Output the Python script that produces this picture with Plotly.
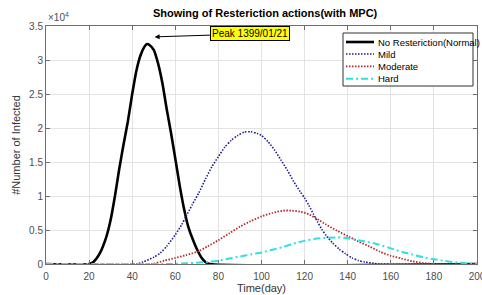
import plotly.graph_objects as go

# ---- data (infected count in units of 1e4) ----
black_days = [0, 20, 22, 25, 28, 30, 32, 34, 36, 38, 40, 42, 44, 46, 47, 48, 50, 52, 54, 56,
              58, 60, 62, 64, 66, 68, 70, 72, 74, 76, 200]
black_vals = [0, 0, 0.03, 0.16, 0.40, 0.65, 1.0, 1.4, 1.76, 2.1, 2.5, 2.85, 3.08, 3.21, 3.235,
              3.22, 3.15, 2.95, 2.66, 2.28, 1.93, 1.55, 1.16, 0.82, 0.55, 0.37, 0.22, 0.10,
              0.03, 0, 0]

mild_days = [0, 42, 45, 50, 53, 56, 60, 63, 65, 68, 71, 74, 77, 80, 83, 86, 89, 92, 95, 98,
             100, 103, 106, 109, 112, 115, 118, 120, 122, 124, 126, 128, 130, 133, 136, 139,
             142, 145, 148, 152, 155, 200]
mild_vals = [0, 0, 0.03, 0.10, 0.16, 0.26, 0.43, 0.58, 0.70, 0.88, 1.05, 1.25, 1.43, 1.58,
             1.72, 1.82, 1.89, 1.94, 1.945, 1.92, 1.89, 1.80, 1.68, 1.53, 1.38, 1.21, 1.06,
             0.97, 0.86, 0.74, 0.62, 0.51, 0.42, 0.31, 0.22, 0.15, 0.09, 0.05, 0.03, 0.01, 0, 0]

moderate_days = [0, 49, 55, 60, 65, 71, 75, 80, 85, 90, 95, 100, 105, 110, 114, 118, 122, 126,
                 130, 135, 140, 145, 150, 155, 160, 165, 170, 175, 180, 200]
moderate_vals = [0, 0, 0.05, 0.09, 0.13, 0.19, 0.26, 0.35, 0.45, 0.55, 0.63, 0.70, 0.75, 0.785,
                 0.785, 0.77, 0.73, 0.66, 0.58, 0.49, 0.41, 0.33, 0.26, 0.18, 0.12, 0.08, 0.04,
                 0.015, 0, 0]

hard_days = [0, 58, 65, 70, 75, 80, 85, 90, 95, 100, 105, 110, 115, 120, 125, 130, 135, 140,
             145, 150, 155, 160, 165, 170, 175, 180, 185, 190, 195, 200]
hard_vals = [0, 0, 0.01, 0.02, 0.03, 0.05, 0.08, 0.11, 0.14, 0.17, 0.21, 0.25, 0.30, 0.34, 0.37,
             0.385, 0.39, 0.38, 0.35, 0.32, 0.28, 0.23, 0.18, 0.14, 0.10, 0.07, 0.045, 0.025,
             0.01, 0]

series_names = ["No Resteriction(Normal)", "Mild", "Moderate", "Hard"]
x_ticks = [0, 20, 40, 60, 80, 100, 120, 140, 160, 180, 200]
y_ticks = [0, 0.5, 1, 1.5, 2, 2.5, 3, 3.5]
y_tick_text = ["0", "0.5", "1", "1.5", "2", "2.5", "3", "3.5"]
peak_day = 50.4
peak_val = 3.34

FONT = "Liberation Sans, Arial, sans-serif"
TICK_COLOR = "#4d4d4d"

styles = [
    dict(color="black", width=2.6),
    dict(color="#1c1c96", width=1.6, dash="1.5px,1.5px"),
    dict(color="#b22d2d", width=1.8, dash="1.5px,1.5px"),
    dict(color="#30e0e0", width=2.0, dash="7px,3px,2px,3px"),
]

fig = go.Figure()
for days, vals, name, st in zip([black_days, mild_days, moderate_days, hard_days],
                                [black_vals, mild_vals, moderate_vals, hard_vals],
                                series_names, styles):
    fig.add_trace(go.Scatter(x=days, y=vals, name=name, mode="lines",
                             line=dict(shape="spline", smoothing=0.6, **st)))

axis_common = dict(showgrid=True, gridcolor="#e3e3e3", gridwidth=1, zeroline=False,
                   showline=True, linecolor="#6e6e6e", linewidth=1, mirror="ticks",
                   ticks="inside", ticklen=4, tickcolor="#6e6e6e", automargin=False,
                   tickfont=dict(family=FONT, size=10, color=TICK_COLOR))

fig.update_xaxes(range=[0, 200], tickvals=x_ticks, ticklabeloverflow="allow",
                 ticklabelstandoff=3, **axis_common,
                 title=dict(text="Time(day)", font=dict(family=FONT, size=11, color="#333333"),
                            standoff=2))
fig.update_yaxes(range=[0, 3.5], tickvals=y_ticks, ticktext=y_tick_text, **axis_common,
                 title=dict(text="#Number of Infected", font=dict(family=FONT, size=11, color="#333333"),
                            standoff=6))

fig.add_annotation(x=0, y=1.0, xref="paper", yref="paper", xanchor="left", yanchor="bottom",
                   text="×10<sup>4</sup>", showarrow=False, yshift=1,
                   font=dict(family=FONT, size=10, color=TICK_COLOR))

fig.add_annotation(x=peak_day, y=peak_val, xref="x", yref="y", text="Peak 1399/01/21",
                   showarrow=True, arrowhead=2, arrowsize=1, arrowwidth=1, arrowcolor="black",
                   ax=95, ay=-3, bgcolor="#ffff00", bordercolor="black", borderwidth=1,
                   borderpad=1, font=dict(family=FONT, size=10, color="black"))

# ---- compact legend box (MATLAB style) in paper coordinates ----
PL, PW, PT, PH = 46, 431, 26, 238
def px2x(p):
    return (p - PL) / PW
def py2y(p):
    return (PT + PH - p) / PH

fig.add_shape(type="rect", xref="paper", yref="paper",
              x0=px2x(343), x1=px2x(473), y0=py2y(86), y1=py2y(33),
              fillcolor="white", line=dict(color="#333333", width=1), layer="above")
row_y = [42, 54, 66.3, 78.7]
for name, st, ry in zip(series_names, styles, row_y):
    fig.add_shape(type="line", xref="paper", yref="paper",
                  x0=px2x(346), x1=px2x(374), y0=py2y(ry), y1=py2y(ry),
                  line=dict(color=st["color"], width=st["width"], dash=st.get("dash", "solid")),
                  layer="above")
    fig.add_annotation(x=px2x(376), y=py2y(ry), xref="paper", yref="paper",
                       xanchor="left", yanchor="middle", text=name, showarrow=False,
                       font=dict(family=FONT, size=9.5, color="black"))

fig.update_layout(
    width=482, height=295, autosize=False,
    margin=dict(l=PL, r=482 - PL - PW, t=PT, b=295 - PT - PH, autoexpand=False),
    paper_bgcolor="white", plot_bgcolor="white",
    title=dict(text="<b>Showing of Resteriction actions(with MPC)</b>", x=0.55, xanchor="center",
               y=0.955, yanchor="middle", font=dict(family=FONT, size=11, color="black"),
               automargin=False),
    showlegend=False,
)

fig.write_html("out.html", include_plotlyjs=True, full_html=True,
               config={"displayModeBar": False},
               post_script=("document.body.style.margin='0';"
                            "document.body.style.overflow='hidden';"
                            "document.documentElement.style.overflow='hidden';"))
